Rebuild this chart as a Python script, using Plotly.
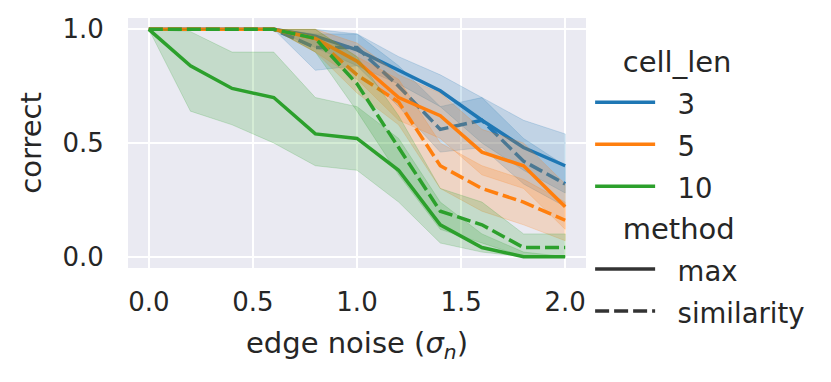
import plotly.graph_objects as go

# edge noise levels (x)
noise = [0.0, 0.2, 0.4, 0.6, 0.8, 1.0, 1.2, 1.4, 1.6, 1.8, 2.0]
x_ticks = [0.0, 0.5, 1.0, 1.5, 2.0]
x_tick_labels = ["0.0", "0.5", "1.0", "1.5", "2.0"]
y_ticks = [0.0, 0.5, 1.0]
y_tick_labels = ["0.0", "0.5", "1.0"]

cell_lens = ["3", "5", "10"]
methods = ["max", "similarity"]

# mean fraction correct, with lower / upper confidence bounds
len3_max = [1, 1, 1, 1, 0.97, 0.91, 0.82, 0.73, 0.60, 0.48, 0.40]
len3_max_lo = [1, 1, 1, 1, 0.92, 0.84, 0.76, 0.66, 0.50, 0.38, 0.28]
len3_max_hi = [1, 1, 1, 1, 1.00, 0.98, 0.88, 0.80, 0.70, 0.60, 0.54]

len3_sim = [1, 1, 1, 1, 0.92, 0.92, 0.75, 0.56, 0.60, 0.42, 0.32]
len3_sim_lo = [1, 1, 1, 1, 0.82, 0.84, 0.66, 0.46, 0.48, 0.32, 0.22]
len3_sim_hi = [1, 1, 1, 1, 0.98, 0.98, 0.84, 0.66, 0.70, 0.52, 0.40]

len5_max = [1, 1, 1, 1, 0.96, 0.86, 0.70, 0.62, 0.46, 0.40, 0.22]
len5_max_lo = [1, 1, 1, 1, 0.90, 0.78, 0.60, 0.52, 0.36, 0.30, 0.12]
len5_max_hi = [1, 1, 1, 1, 1.00, 0.94, 0.80, 0.72, 0.56, 0.50, 0.32]

len5_sim = [1, 1, 1, 1, 0.96, 0.80, 0.68, 0.40, 0.30, 0.24, 0.16]
len5_sim_lo = [1, 1, 1, 1, 0.90, 0.72, 0.58, 0.30, 0.20, 0.14, 0.07]
len5_sim_hi = [1, 1, 1, 1, 1.00, 0.88, 0.78, 0.50, 0.40, 0.34, 0.24]

len10_max = [1, 0.84, 0.74, 0.70, 0.54, 0.52, 0.38, 0.14, 0.04, 0.0, 0.0]
len10_max_lo = [1, 0.64, 0.58, 0.50, 0.40, 0.38, 0.24, 0.06, 0.02, 0.0, 0.0]
len10_max_hi = [1, 0.99, 0.90, 0.90, 0.70, 0.66, 0.52, 0.24, 0.10, 0.02, 0.0]

len10_sim = [1, 1, 1, 1, 0.96, 0.76, 0.48, 0.20, 0.14, 0.04, 0.04]
len10_sim_lo = [1, 1, 1, 1, 0.90, 0.64, 0.36, 0.12, 0.06, 0.0, 0.0]
len10_sim_hi = [1, 1, 1, 1, 1.00, 0.88, 0.62, 0.30, 0.24, 0.10, 0.10]

series = {
    ("3", "max"): (len3_max, len3_max_lo, len3_max_hi),
    ("3", "similarity"): (len3_sim, len3_sim_lo, len3_sim_hi),
    ("5", "max"): (len5_max, len5_max_lo, len5_max_hi),
    ("5", "similarity"): (len5_sim, len5_sim_lo, len5_sim_hi),
    ("10", "max"): (len10_max, len10_max_lo, len10_max_hi),
    ("10", "similarity"): (len10_sim, len10_sim_lo, len10_sim_hi),
}

colors = {"3": (31, 119, 180), "5": (255, 127, 14), "10": (44, 160, 44)}
dashes = {"max": "solid", "similarity": "14px,5px"}
text_color = "#262626"
font_family = "DejaVu Sans"
gap = "\u00a0\u00a0"  # space between legend line and label


def legend_label(text):
    return f'<span style="font-size:27.5px">{gap}{text}</span>'


fig = go.Figure()

for (cl, method), (mean, lo, hi) in series.items():
    r, g, b = colors[cl]
    band = f"rgba({r},{g},{b},0.2)"
    fig.add_trace(go.Scatter(
        x=noise + noise[::-1],
        y=hi + lo[::-1],
        fill="toself",
        fillcolor=band,
        line=dict(color=band, width=1),
        mode="lines",
        hoverinfo="skip",
        showlegend=False,
    ))
    fig.add_trace(go.Scatter(
        x=noise,
        y=mean,
        mode="lines",
        line=dict(color=f"rgb({r},{g},{b})", width=3.5, dash=dashes[method]),
        name=f"{cl}, {method}",
        showlegend=False,
    ))

# legend entries (seaborn style: hue block then style block)
title_font = dict(size=29, color=text_color, family=font_family)
for i, cl in enumerate(cell_lens):
    r, g, b = colors[cl]
    fig.add_trace(go.Scatter(
        x=[None], y=[None], mode="lines",
        line=dict(color=f"rgb({r},{g},{b})", width=3.5),
        name=legend_label(cl), legendgroup="cell_len",
        legendgrouptitle=dict(text="\u00a0\u00a0\u00a0cell_len", font=title_font) if i == 0 else None,
    ))
for i, method in enumerate(methods):
    fig.add_trace(go.Scatter(
        x=[None], y=[None], mode="lines",
        line=dict(color="#333333", width=3.5, dash=dashes[method]),
        name=legend_label(method), legendgroup="method",
        legendgrouptitle=dict(text="\u00a0\u00a0\u00a0method", font=title_font) if i == 0 else None,
    ))

# the page body adds an 8px margin, so the figure is 8px smaller than the window
fig.update_layout(
    width=823,
    height=374,
    paper_bgcolor="white",
    plot_bgcolor="#EAEAF2",
    margin=dict(l=120, r=245, t=10, b=114),
    font=dict(family=font_family, size=26, color=text_color),
    showlegend=True,
    legend=dict(
        x=1.009, xanchor="left", y=0.93, yanchor="top",
        font=dict(size=30, color=text_color, family=font_family),
        itemwidth=60,
        tracegroupgap=0,
        traceorder="grouped",
        bgcolor="rgba(0,0,0,0)",
        maxheight=360,
    ),
)
fig.update_xaxes(
    range=[-0.1, 2.1],
    tickvals=x_ticks, ticktext=x_tick_labels,
    showgrid=True, gridcolor="white", gridwidth=2,
    zeroline=False, showline=False,
    ticks="outside", ticklen=11, tickcolor="rgba(0,0,0,0)",
    tickfont=dict(size=26),
    automargin=False,
    title=dict(text="edge noise (<i>σ</i><sub><i>n</i></sub>)", font=dict(size=29), standoff=16),
)
fig.update_yaxes(
    range=[-0.05, 1.05],
    tickvals=y_ticks, ticktext=y_tick_labels,
    showgrid=True, gridcolor="white", gridwidth=2,
    zeroline=False, showline=False,
    ticks="outside", ticklen=18, tickcolor="rgba(0,0,0,0)",
    tickfont=dict(size=26),
    automargin=False,
    title=dict(text="correct", font=dict(size=29), standoff=12),
)

fig.write_html("out.html")
